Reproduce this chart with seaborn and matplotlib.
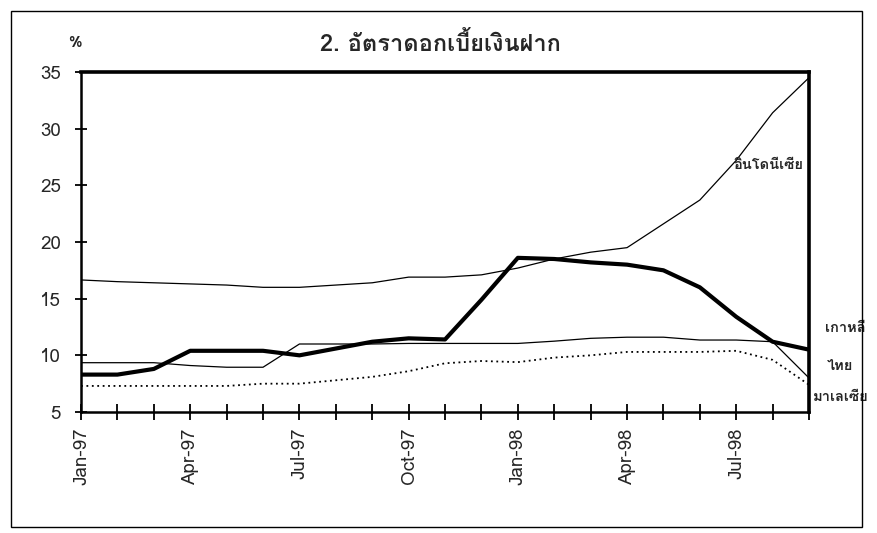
import numpy as np
import pandas as pd
import matplotlib
matplotlib.use('Agg')
import matplotlib.pyplot as plt
from matplotlib import font_manager
from matplotlib.ft2font import FT2Font
import seaborn as sns

# monthly deposit rates, Jan-97 .. Sep-98 (%)
months = ['Jan-97', 'Feb-97', 'Mar-97', 'Apr-97', 'May-97', 'Jun-97', 'Jul-97',
          'Aug-97', 'Sep-97', 'Oct-97', 'Nov-97', 'Dec-97', 'Jan-98', 'Feb-98',
          'Mar-98', 'Apr-98', 'May-98', 'Jun-98', 'Jul-98', 'Aug-98', 'Sep-98']
korea = [8.3, 8.3, 8.8, 10.4, 10.4, 10.4, 10.0, 10.6, 11.2, 11.5, 11.4,
         14.9, 18.6, 18.5, 18.2, 18.0, 17.5, 16.0, 13.4, 11.2, 10.5]
thai = [9.35, 9.35, 9.35, 9.1, 8.95, 8.95, 11.0, 11.0, 11.0, 11.05, 11.05,
        11.05, 11.05, 11.25, 11.5, 11.6, 11.6, 11.35, 11.35, 11.2, 8.0]
malaysia = [7.3, 7.3, 7.3, 7.3, 7.3, 7.5, 7.5, 7.8, 8.1, 8.6, 9.3,
            9.5, 9.4, 9.8, 10.0, 10.3, 10.3, 10.3, 10.4, 9.6, 7.4]
indonesia = [16.65, 16.5, 16.4, 16.3, 16.2, 16.0, 16.0, 16.2, 16.4, 16.9, 16.9,
             17.1, 17.7, 18.5, 19.1, 19.5, 21.6, 23.7, 27.2, 31.4, 34.5]
tick_labels = months[::3]

df = pd.DataFrame({'m': np.arange(len(months)), 'korea': korea, 'thai': thai,
                   'malaysia': malaysia, 'indonesia': indonesia})


# look for an installed font that has Thai glyphs
def find_thai_font():
    for f in font_manager.fontManager.ttflist:
        try:
            if ord('อ') in FT2Font(f.fname).get_charmap():
                return f.name
        except Exception:
            pass
    return 'DejaVu Sans'


sns.set_style('white')
thai_font = find_thai_font()
plt.rcParams['font.family'] = [thai_font, 'DejaVu Sans']

fig = plt.figure(figsize=(8.77, 5.33), dpi=100)
ax = fig.add_axes([0.0924, 0.227, 0.8301, 0.638])

sns.lineplot(data=df, x='m', y='indonesia', color='black', linewidth=0.9, ax=ax)
sns.lineplot(data=df, x='m', y='thai', color='black', linewidth=0.9, ax=ax)
sns.lineplot(data=df, x='m', y='malaysia', color='black', linewidth=1.3,
             linestyle=(0, (1, 2)), ax=ax)
sns.lineplot(data=df, x='m', y='korea', color='black', linewidth=3.0, ax=ax)

ax.set_xlim(0, len(months) - 1)
ax.set_ylim(5, 35)
ax.set_yticks(range(5, 36, 5))
ax.set_xticks(range(0, len(months), 3))
ax.set_xticklabels(tick_labels, rotation=90)
ax.set_xticks(range(len(months)), minor=True)
ax.set_xlabel('')
ax.set_ylabel('')
ax.tick_params(axis='both', which='both', direction='inout', color='black',
               width=1.3, labelsize=13.5, bottom=True, left=True)
ax.tick_params(axis='x', which='both', length=12, pad=5)
ax.tick_params(axis='y', length=9, pad=10)

for side in ['top', 'right']:
    ax.spines[side].set_linewidth(2.6)
for side in ['left', 'bottom']:
    ax.spines[side].set_linewidth(1.8)
for sp in ax.spines.values():
    sp.set_color('black')
    sp.set_visible(True)

# series labels
ax.text(20.45, 12.4, 'เกาหลี', fontsize=10.5, fontweight='bold', va='center',
        ha='left', clip_on=False)
ax.text(20.5, 9.1, 'ไทย', fontsize=10.5, fontweight='bold', va='center',
        ha='left', clip_on=False)
ax.text(20.1, 6.3, 'มาเลเซีย', fontsize=10.5, fontweight='bold', va='center',
        ha='left', clip_on=False)
ax.text(18.9, 26.8, 'อินโดนีเซีย', fontsize=10.5, fontweight='bold', va='center',
        ha='center')

fig.text(0.502, 0.918, '2. อัตราดอกเบี้ยเงินฝาก', fontsize=17, fontweight='bold',
         ha='center', va='center')
fig.text(0.085, 0.92, '%', fontsize=11, fontweight='bold', ha='center', va='center')

# outer frame of the chart
fig.patches.append(plt.Rectangle((0.012, 0.012), 0.971, 0.968, transform=fig.transFigure,
                                 fill=False, edgecolor='black', linewidth=1.0))

fig.savefig('out.png', dpi=100)
